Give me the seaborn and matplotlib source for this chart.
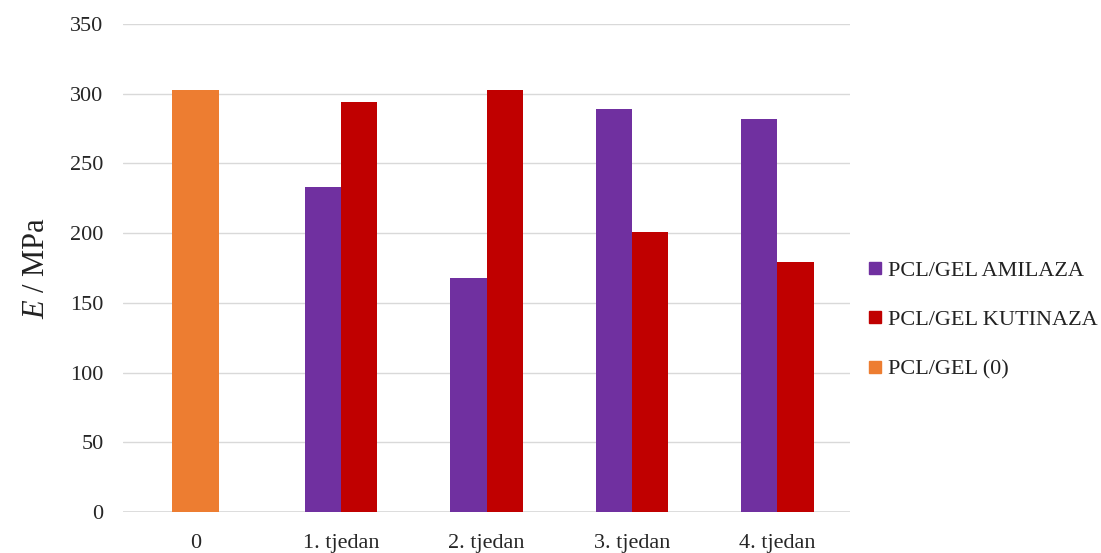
import matplotlib
matplotlib.use("Agg")
import matplotlib.pyplot as plt
import seaborn as sns
import pandas as pd
from matplotlib.lines import Line2D

categories = ["0", "1. tjedan", "2. tjedan", "3. tjedan", "4. tjedan"]
amilaza = [None, 233, 168, 289, 282]
kutinaza = [None, 294, 303, 201, 179]
pcl_gel_0 = [303, None, None, None, None]
series_names = ["PCL/GEL AMILAZA", "PCL/GEL KUTINAZA", "PCL/GEL (0)"]
colors = ["#7030A0", "#C00000", "#ED7D31"]

sns.set_theme(style="white")
plt.rcParams['font.family'] = ['Liberation Serif', 'DejaVu Serif']
plt.rcParams['mathtext.fontset'] = 'custom'
plt.rcParams['mathtext.it'] = 'Liberation Serif:italic'
plt.rcParams['mathtext.rm'] = 'Liberation Serif'

fig = plt.figure(figsize=(11.01, 5.53), dpi=100)
ax = fig.add_axes([123/1101, 1-512/553, (850-123)/1101, (512-24)/553])

rows = []
for c, a, k in zip(categories, amilaza, kutinaza):
    if a is not None:
        rows.append({"cat": c, "val": a, "series": series_names[0]})
    if k is not None:
        rows.append({"cat": c, "val": k, "series": series_names[1]})
df2 = pd.DataFrame(rows)
df0 = pd.DataFrame({"cat": [c for c, v in zip(categories, pcl_gel_0) if v is not None],
                    "val": [v for v in pcl_gel_0 if v is not None]})

sns.barplot(data=df2, x="cat", y="val", hue="series", order=categories,
            hue_order=series_names[:2], palette=colors[:2], width=0.5,
            saturation=1, dodge=True, ax=ax, legend=False, errorbar=None,
            linewidth=0)
sns.barplot(data=df0, x="cat", y="val", order=categories, color=colors[2],
            width=0.32, saturation=1, ax=ax, errorbar=None, linewidth=0)

ax.set_xlim(-0.5, 4.5)
ax.set_ylim(0, 350)
ax.set_yticks(range(0, 351, 50))
ax.yaxis.grid(True, color="#D9D9D9", linewidth=1)
ax.set_axisbelow(True)
for s in ["top", "right", "left", "bottom"]:
    ax.spines[s].set_visible(False)
ax.axhline(0, color="#D9D9D9", linewidth=1.2, zorder=0)
ax.tick_params(axis="both", length=0, labelsize=16, colors="#262626")
ax.tick_params(axis="x", pad=16)
ax.tick_params(axis="y", pad=14)
ax.set_xlabel("")
ax.set_ylabel("$E$ / MPa", fontsize=22, color="#222222", labelpad=14)

handles = [Line2D([0], [0], marker="s", linestyle="none", markersize=8,
                  markerfacecolor=c, markeredgecolor=c) for c in colors]
fig.legend(handles, series_names, loc="upper left",
           bbox_to_anchor=(848/1101, 1-240/553), frameon=False, fontsize=16,
           handlelength=0.6, handletextpad=0.3, labelspacing=1.3,
           labelcolor="#222222")

fig.savefig("out.png", dpi=100)
